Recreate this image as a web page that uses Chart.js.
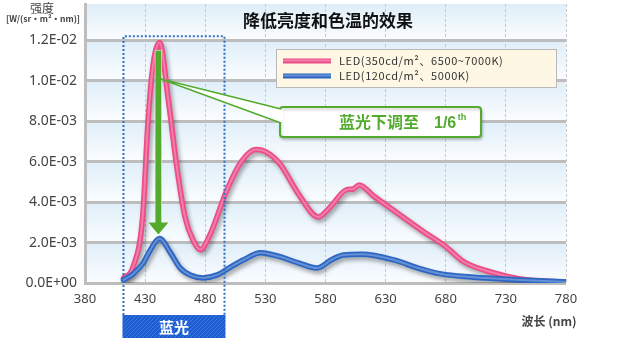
<!DOCTYPE html>
<html lang="zh">
<head>
<meta charset="UTF-8">
<title>降低亮度和色温的效果</title>
<style>
  html, body { margin: 0; padding: 0; background: #fff; }
  #wrap { width: 640px; height: 340px; }
</style>
<script src="https://cdn.jsdelivr.net/npm/chart.js@4"></script>
</head>
<body>
<div id="wrap"><canvas id="spectrum" width="640" height="340"></canvas></div>
<script>
// spectra: wavelength (nm) and intensity W/(sr·m²·nm)
const nm350 = [412, 420, 428, 432, 436, 442, 449, 456, 463, 470, 476, 484, 498, 510, 522, 530, 542, 557, 574, 584, 597, 603, 608, 620, 640, 660, 680, 695, 720, 742, 760, 780];
const val350 = [0.00025, 0.0008, 0.0033, 0.0076, 0.0105, 0.0119, 0.0092, 0.0059, 0.0033, 0.0021, 0.00165, 0.0024, 0.0046, 0.0060, 0.0066, 0.0065, 0.0059, 0.00445, 0.00327, 0.00376, 0.0046, 0.00465, 0.00485, 0.0043, 0.00345, 0.0026, 0.0018, 0.00105, 0.0005, 0.0002, 0.0001, 0.00005];

const nm120 = [412, 420, 428, 434, 442, 451, 459, 468, 478, 490, 500, 512, 526, 542, 558, 573, 585, 595, 610, 637, 657, 676, 701, 742, 780];
const val120 = [0.00015, 0.00045, 0.00095, 0.0016, 0.0022, 0.0015, 0.00075, 0.00038, 0.00025, 0.0004, 0.00075, 0.00115, 0.0015, 0.0013, 0.00098, 0.00074, 0.00115, 0.00139, 0.00142, 0.00114, 0.00074, 0.00045, 0.0003, 0.00015, 0.00005];

const seriesNames = ["LED(350cd/m²、6500~7000K)", "LED(120cd/m²、5000K)"];

const xTicks = [380, 430, 480, 530, 580, 630, 680, 730, 780];
const yTicks = [0, 0.002, 0.004, 0.006, 0.008, 0.010, 0.012];
const yTickLabels = ["0.0E+00", "2.0E-03", "4.0E-03", "6.0E-03", "8.0E-03", "1.0E-02", "1.2E-02"];

// blue-light band and the 1/6 annotation
const blueBand = [412, 496];
const arrowNm = 441;
const arrowFrom = 0.0115;
const arrowTo = 0.0024;

const PINK = "#ec4d88", PINK_HI = "rgba(255,255,255,0.28)";
const BLUE = "#2c66c4", BLUE_HI = "rgba(255,255,255,0.28)";
const GREEN = "#52ab2c";
const CJK = "'Noto Sans CJK SC', 'Noto Sans', sans-serif";

function toPoints(xs, ys) {
	return xs.map((x, i) => ({ x, y: ys[i] }));
}

function roundRect(ctx, x, y, w, h, r) {
	ctx.beginPath();
	ctx.moveTo(x + r, y);
	ctx.arcTo(x + w, y, x + w, y + h, r);
	ctx.arcTo(x + w, y + h, x, y + h, r);
	ctx.arcTo(x, y + h, x, y, r);
	ctx.arcTo(x, y, x + w, y, r);
	ctx.closePath();
}

function legendLine(ctx, x1, x2, y, color, hi) {
	ctx.lineCap = "butt";
	ctx.strokeStyle = color;
	ctx.lineWidth = 5;
	ctx.beginPath(); ctx.moveTo(x1, y); ctx.lineTo(x2, y); ctx.stroke();
	ctx.strokeStyle = hi;
	ctx.lineWidth = 2;
	ctx.beginPath(); ctx.moveTo(x1, y - 0.5); ctx.lineTo(x2, y - 0.5); ctx.stroke();
}

const decor = {
	id: "decor",
	beforeDraw(chart) {
		const { ctx, chartArea: a, scales: { y } } = chart;
		ctx.save();
		ctx.fillStyle = "#fff";
		ctx.fillRect(0, 0, chart.width, chart.height);
		// light blue bands between the horizontal grid lines
		const edges = [...yTicks, y.max];
		for (let i = 0; i < edges.length - 1; i++) {
			const yb = y.getPixelForValue(edges[i]);
			const yt = y.getPixelForValue(edges[i + 1]);
			const g = ctx.createLinearGradient(0, yt, 0, yb);
			g.addColorStop(0, "#dfeef9");
			g.addColorStop(1, "#fbfdff");
			ctx.fillStyle = g;
			ctx.fillRect(a.left, yt, a.right - a.left, yb - yt);
		}
		ctx.restore();
	},
	beforeDatasetDraw(chart, args) {
		const ctx = chart.ctx;
		ctx.save();
		if (chart.data.datasets[args.index].shadow) {
			ctx.shadowColor = "rgba(0,0,0,0.35)";
			ctx.shadowBlur = 4;
			ctx.shadowOffsetX = 2;
			ctx.shadowOffsetY = 3;
		}
	},
	afterDatasetDraw(chart) {
		chart.ctx.restore();
	},
	afterDraw(chart) {
		const { ctx, scales: { x, y } } = chart;
		ctx.save();

		// chart title
		ctx.fillStyle = "#111";
		ctx.font = "bold 17px " + CJK;
		ctx.textAlign = "center";
		ctx.textBaseline = "middle";
		ctx.fillText("降低亮度和色温的效果", 328, 21);

		// y axis title
		ctx.fillStyle = "#444";
		ctx.font = "12px " + CJK;
		ctx.fillText("强度", 42, 8);
		ctx.font = "bold 8.5px " + CJK;
		ctx.fillText("[W/(sr・m²・nm)]", 43, 19);

		// x axis title
		ctx.font = "bold 12px " + CJK;
		ctx.fillText("波长 (nm)", 549, 321);

		// dotted blue-light box
		const bx1 = x.getPixelForValue(blueBand[0]);
		const bx2 = x.getPixelForValue(blueBand[1]);
		const by1 = y.getPixelForValue(0.0122);
		const by2 = 315;
		ctx.strokeStyle = "#2f6fc4";
		ctx.lineWidth = 2;
		ctx.setLineDash([2, 2]);
		ctx.beginPath();
		ctx.moveTo(bx1, by2); ctx.lineTo(bx1, by1); ctx.lineTo(bx2, by1); ctx.lineTo(bx2, by2);
		ctx.stroke();
		ctx.setLineDash([]);

		// hatched label box
		const pc = document.createElement("canvas");
		pc.width = 4; pc.height = 4;
		const p = pc.getContext("2d");
		p.fillStyle = "#1c5ed2";
		p.fillRect(0, 0, 4, 4);
		p.strokeStyle = "#3d78de";
		p.lineWidth = 1;
		p.beginPath(); p.moveTo(0, 4); p.lineTo(4, 0); p.stroke();
		ctx.fillStyle = ctx.createPattern(pc, "repeat");
		ctx.fillRect(bx1 - 1, by2, bx2 - bx1 + 2, 23);
		ctx.fillStyle = "#fff";
		ctx.font = "bold 15px " + CJK;
		ctx.fillText("蓝光", (bx1 + bx2) / 2, by2 + 12);

		// legend
		ctx.fillStyle = "#fdf7e3";
		ctx.fillRect(276, 49, 280, 38);
		ctx.strokeStyle = "#b9b9b9";
		ctx.lineWidth = 1;
		ctx.strokeRect(276.5, 49.5, 280, 38);
		legendLine(ctx, 283, 331, 61, PINK, PINK_HI);
		legendLine(ctx, 283, 331, 76, BLUE, BLUE_HI);
		ctx.fillStyle = "#333";
		ctx.font = "11px " + CJK;
		ctx.letterSpacing = "0.6px";
		ctx.textAlign = "left";
		ctx.fillText(seriesNames[0], 339, 61);
		ctx.fillText(seriesNames[1], 339, 76);
		ctx.letterSpacing = "0px";

		// green arrow
		const ax = x.getPixelForValue(arrowNm);
		const ay1 = y.getPixelForValue(arrowFrom);
		const ay2 = y.getPixelForValue(arrowTo);
		ctx.fillStyle = GREEN;
		ctx.strokeStyle = "#fff";
		ctx.lineWidth = 1;
		ctx.beginPath();
		ctx.moveTo(ax - 3, ay1);
		ctx.lineTo(ax + 3, ay1);
		ctx.lineTo(ax + 3, ay2 - 12);
		ctx.lineTo(ax + 10, ay2 - 12);
		ctx.lineTo(ax, ay2);
		ctx.lineTo(ax - 10, ay2 - 12);
		ctx.lineTo(ax - 3, ay2 - 12);
		ctx.closePath();
		ctx.stroke();
		ctx.fill();

		// callout with tail pointing at the pink peak
		const tx = x.getPixelForValue(442.5);
		const ty = y.getPixelForValue(0.0101);
		ctx.shadowColor = "rgba(0,0,0,0.2)";
		ctx.shadowBlur = 3;
		ctx.shadowOffsetX = 1;
		ctx.shadowOffsetY = 2;
		ctx.fillStyle = "#fff";
		ctx.strokeStyle = GREEN;
		ctx.lineWidth = 2;
		roundRect(ctx, 280, 107, 201, 30, 3);
		ctx.fill();
		ctx.stroke();
		ctx.shadowColor = "transparent";
		ctx.lineWidth = 1.5;
		ctx.beginPath();
		ctx.moveTo(281, 109);
		ctx.lineTo(tx, ty);
		ctx.lineTo(281, 123);
		ctx.closePath();
		ctx.fill();
		ctx.beginPath();
		ctx.moveTo(281, 109); ctx.lineTo(tx, ty); ctx.lineTo(281, 123);
		ctx.stroke();
		ctx.fillStyle = "#fff";
		ctx.fillRect(280, 110, 3, 12);

		ctx.fillStyle = GREEN;
		ctx.textAlign = "left";
		ctx.textBaseline = "alphabetic";
		ctx.font = "bold 16px " + CJK;
		ctx.fillText("蓝光下调至", 339, 128);
		ctx.font = "bold 16px 'Liberation Sans', sans-serif";
		ctx.fillText("1/6", 434, 128);
		const w16 = ctx.measureText("1/6").width;
		ctx.font = "bold 9px 'Liberation Sans', sans-serif";
		ctx.fillText("th", 434 + w16 + 1.5, 120);

		ctx.restore();
	},
};

const ds350 = toPoints(nm350, val350);
const ds120 = toPoints(nm120, val120);

new Chart(document.getElementById("spectrum"), {
	type: "line",
	data: {
		datasets: [
			{ label: seriesNames[1] + " hi", data: ds120, borderColor: BLUE_HI, borderWidth: 2, order: 0 },
			{ label: seriesNames[1], data: ds120, borderColor: BLUE, borderWidth: 5.5, shadow: true, order: 1 },
			{ label: seriesNames[0] + " hi", data: ds350, borderColor: PINK_HI, borderWidth: 2, order: 2 },
			{ label: seriesNames[0], data: ds350, borderColor: PINK, borderWidth: 5.5, shadow: true, order: 3 },
		],
	},
	options: {
		responsive: false,
		animation: false,
		layout: { padding: { top: 4, right: 74, left: 0, bottom: 0 } },
		elements: {
			point: { radius: 0 },
			line: { cubicInterpolationMode: "monotone", borderCapStyle: "round", borderJoinStyle: "round", fill: false },
		},
		plugins: { legend: { display: false }, tooltip: { enabled: false }, title: { display: false } },
		scales: {
			x: {
				type: "linear",
				min: 380,
				max: 780,
				afterBuildTicks: (s) => { s.ticks = xTicks.map((v) => ({ value: v })); },
				afterFit: (s) => { s.height = 57; s.paddingLeft = 0; s.paddingRight = 0; },
				ticks: { color: "#444", font: { family: "'Noto Sans', sans-serif", size: 13 }, padding: 8, maxRotation: 0 },
				grid: { color: "#c8c8c8", lineWidth: 1, tickLength: 0 },
				border: { display: false, dash: [3, 2] },
			},
			y: {
				min: 0,
				max: 0.0138,
				afterBuildTicks: (s) => { s.ticks = yTicks.map((v) => ({ value: v })); },
				afterFit: (s) => { s.width = 85; s.paddingTop = 0; s.paddingBottom = 0; },
				ticks: {
					color: "#444",
					font: { family: "'Noto Sans', sans-serif", size: 14 },
					padding: 8,
					callback: (v, i) => yTickLabels[i],
				},
				grid: { color: "#bdbdbd", lineWidth: 3, tickLength: 0 },
				border: { display: true, color: "#bdbdbd", width: 3 },
			},
		},
	},
	plugins: [decor],
});
</script>
</body>
</html>
